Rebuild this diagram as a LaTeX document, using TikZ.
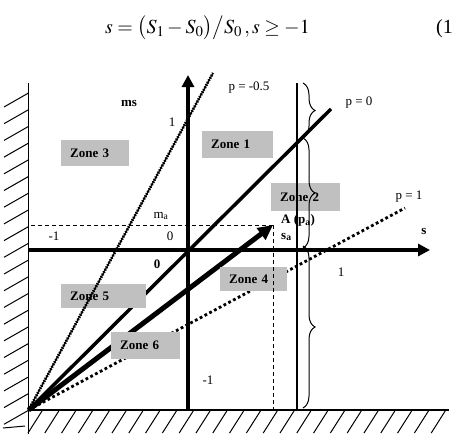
\documentclass[tikz,border=0pt]{standalone}
\usepackage{mathptmx}
\usepackage[no-math]{fontspec}
\setmainfont{Liberation Serif}
\usetikzlibrary{arrows.meta,decorations.pathreplacing}
\definecolor{zonegray}{RGB}{192,192,192}

\begin{document}
\begin{tikzpicture}[x=1pt, y=-1pt,
  lbl/.style={font=\fontsize{13}{15}\selectfont, inner sep=0pt},
  blbl/.style={font=\fontsize{13}{15}\selectfont\bfseries, inner sep=0pt},
  zone/.style={fill=zonegray, anchor=north west, align=left,
               inner xsep=9pt, inner ysep=0pt,
               font=\fontsize{13}{15}\selectfont\bfseries},
  axis/.style={line width=3.5pt, -{Triangle[length=12pt,width=12pt]}},
  wall/.style={line width=1.1pt},
  hatch/.style={line width=1pt},
  helper/.style={line width=0.9pt, dash pattern=on 4pt off 3pt},
  bracket/.style={decorate, decoration={brace, amplitude=12pt}, line width=1pt}
]
\useasboundingbox (0,0) rectangle (452,434);

% equation
\node[inner sep=0pt, anchor=base west, font=\fontsize{20}{24}\selectfont] (eq) at (105,33)
  {$s=\bigl(S_1-S_0\bigr)\big/S_0\,,s\geq -1$};
\node[inner sep=0pt, anchor=base west, font=\fontsize{20}{24}\selectfont] (eqno) at (436,33) {(1)};

% walls
\coordinate (O) at (28.5,410);
\coordinate (wallT) at (28.5,83);
\coordinate (wallB) at (28.5,434);
\coordinate (floorR) at (449,410);
\draw[wall] (wallT) -- (wallB);
\draw[wall] (O) -- (floorR);
\foreach \k in {0,...,19}
  \draw[hatch] (4,{107+16.7*\k}) -- (28.5,{93+16.7*\k});
\foreach \k in {0,...,24}
  \draw[hatch] ({28+16.8*\k},433) -- ({42+16.8*\k},411);
\draw[hatch] (3,428) -- (25,426);

% end points
\coordinate (pm) at (213,73);
\coordinate (pz) at (331,109);
\coordinate (A) at (273,225);
\coordinate (pone) at (405,208);
\coordinate (maL) at (31,225);
\coordinate (saB) at (273,410);

% lines under the zones
\draw[line width=3.5pt] (O) -- (pz);
\draw[line width=5pt, -{Triangle[length=15pt,width=14pt]}] (O) -- (A);
\draw[line width=2.8pt, dash pattern=on 2.8pt off 2.6pt] (O) -- (pone);

% zones
\node[zone, text width=53pt, minimum height=27pt] (zone1) at (202,131) {Zone 1};
\node[zone, text width=51pt, minimum height=28pt] (zone2) at (271,183) {Zone 2};
\node[zone, text width=50pt, minimum height=26pt] (zone3) at (61,140) {Zone 3};
\node[zone, text width=49pt, minimum height=24pt] (zone4) at (220,267) {Zone 4};
\node[zone, text width=67pt, minimum height=24pt] (zone5) at (61,284) {Zone 5};
\node[zone, text width=51pt, minimum height=27pt] (zone6) at (111,332) {Zone 6};

% p = -0.5
\draw[line width=1.1pt] (O) -- (pm);
\draw[line width=2.8pt, dash pattern=on 1.3pt off 1.4pt, xshift=-1.3pt] (O) -- (pm);

% dashed helpers
\draw[helper] (maL) -- (A);
\draw[helper] (A) -- (saB);

% axes
\coordinate (sL) at (28.5,250);
\coordinate (sR) at (430,250);
\coordinate (mB) at (188,410);
\coordinate (mT) at (188,75);
\draw[axis] (sL) -- (sR);
\draw[axis] (mB) -- (mT);

% vertical line and braces
\coordinate (vT) at (297,83);
\coordinate (vB) at (297,410);
\draw[line width=1.1pt] (vT) -- (vB);
\coordinate (b0) at (303,83);
\coordinate (b1) at (303,138);
\coordinate (b2) at (303,248);
\coordinate (b3) at (303,408);
\draw[bracket] (b0) -- (b1);
\draw[bracket] (b1) -- (b2);
\draw[bracket] ([yshift=2pt]b2) -- (b3);

% labels
\node[lbl] (lpm) at (249,88) {p = -0.5};
\node[lbl] (lpz) at (359,103) {p = 0};
\node[lbl] (lpone) at (409,197) {p = 1};
\node[blbl] (lms) at (129,103) {ms};
\node[lbl] (lone) at (172,122) {1};
\node[lbl] (lma) at (161,216) {m\textsubscript{a}};
\node[lbl] (lmone) at (54,236) {-1};
\node[lbl] (lzero) at (170,236) {0};
\node[blbl] (lorig) at (157,264) {0};
\node[blbl] (ls) at (424,231) {s};
\node[blbl, anchor=west] (lA) at (281,220) {A (p\textsubscript{a})};
\node[blbl, anchor=west] (lsa) at (281,237) {s\textsubscript{a}};
\node[lbl] (lsone) at (341,272) {1};
\node[lbl] (lmmone) at (208,380) {-1};
\end{tikzpicture}
\end{document}
